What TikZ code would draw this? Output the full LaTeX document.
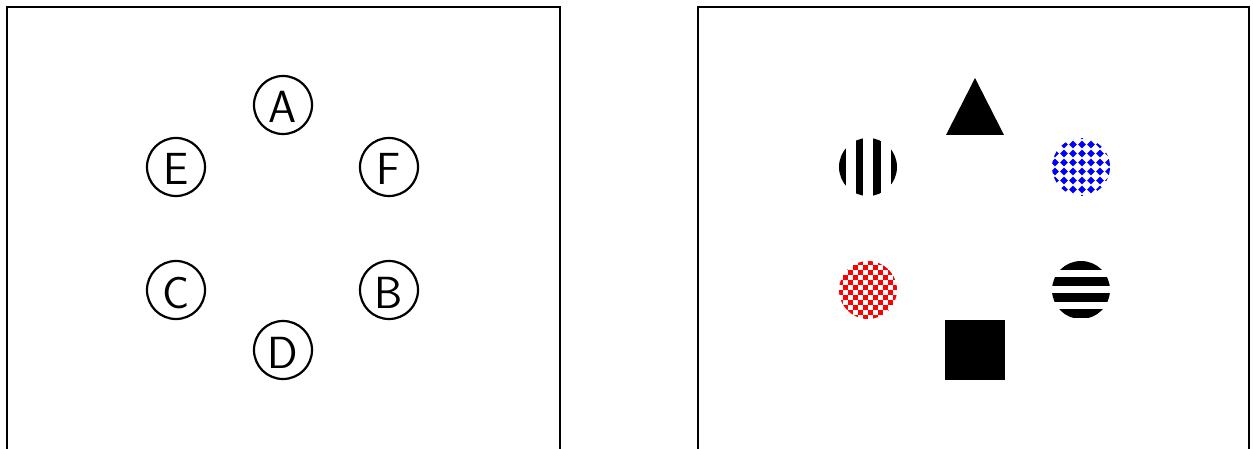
\documentclass[tikz,border=0pt]{standalone}
\begin{document}
\begin{tikzpicture}[x=1pt,y=-1pt,
  frame/.style={draw, line width=2pt},
  lbl/.style={circle, draw, line width=2.2pt, minimum size=58pt, inner sep=0pt,
    text height=36pt, text depth=0pt,
    font=\sffamily\fontsize{45}{45}\selectfont},
  disc/.style={circle, minimum size=58pt, inner sep=0pt},
  blk/.style={fill=black, minimum size=60pt, inner sep=0pt}]
\useasboundingbox (0,0) rectangle (1253,449);
% frames
\draw[frame] (6.5,7.5) rectangle (560,449.5);
\draw[frame] (698,7.5) rectangle (1249,449.5);
% left panel
\node[lbl] (A) at (283,105) {A};
\node[lbl] (E) at (176,167) {E};
\node[lbl] (F) at (389,167) {F};
\node[lbl] (C) at (176,290) {C};
\node[lbl] (B) at (389,290) {B};
\node[lbl] (D) at (283,350) {D};
% right panel
\fill (975,78) coordinate (tri) -- (1004,135) -- (946,135) -- cycle;
\node[blk] (sq) at (975,350) {};
\node[disc, path picture={
  \begin{scope}[shift={(path picture bounding box.center)}]
  \foreach \o in {-26.25,-8.75,8.75,26.25}
    \fill[black] (\o-3.75,-35) rectangle (\o+3.75,35);
  \end{scope}}] (vs) at (868,167) {};
\node[disc, path picture={
  \begin{scope}[shift={(path picture bounding box.center)}]
  \foreach \o in {-25,-9,7,23}
    \fill[black] (-35,\o-4.5) rectangle (35,\o+4.5);
  \end{scope}}] (hs) at (1081,290) {};
\node[disc, path picture={
  \begin{scope}[shift={(path picture bounding box.center)}]
  \foreach \i in {-7,...,6}
    \foreach \j in {-7,...,6}{
      \pgfmathtruncatemacro\p{mod(\i+\j+20,2)}
      \ifnum\p=0 \fill[red] (\i*5,\j*5) rectangle ++(5,5);\fi}
  \end{scope}}] (rc) at (868,290) {};
\node[disc, path picture={
  \begin{scope}[shift={(path picture bounding box.center)}]
  \foreach \i in {-4,...,4}
    \foreach \j in {-4,...,4}
      \fill[blue] (1+\i*9,-4.5+\j*9) +(-3.8,0) -- +(0,-3.8) -- +(3.8,0) -- +(0,3.8) -- cycle;
  \end{scope}}] (bd) at (1081,167) {};
\end{tikzpicture}
\end{document}
